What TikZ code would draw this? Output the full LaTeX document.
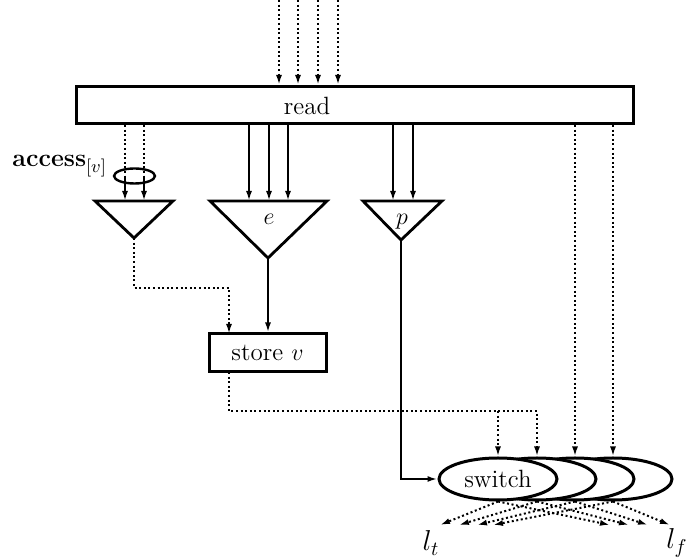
\documentclass[tikz,border=0pt]{standalone}
\usetikzlibrary{shapes.geometric,arrows.meta}
\begin{document}
\begin{tikzpicture}[x=0.5pt,y=-0.5pt,
  every node/.style={font=\fontsize{12.5}{15}\selectfont},
  arr/.style={-{Latex[length=5pt,width=3pt]}},
  dotline/.style={line width=1pt,dash pattern=on 1pt off 1.3pt},
  solidline/.style={line width=1.1pt},
  tri/.style={line width=1.4pt,line join=miter},
  boxnode/.style={draw,line width=1.5pt,inner sep=0pt},
  swnode/.style={draw,ellipse,line width=1.5pt,fill=white,inner sep=0pt,
                 minimum width=59pt,minimum height=21pt}]
\useasboundingbox (0,0) rectangle (686,560);

% read box
\node[boxnode,minimum width=278.5pt,minimum height=18.5pt] (read) at (354.5,105) {};
\node (readlbl) at (307,106) {read};

% triangles
\draw[tri] (95,201) -- (173,201) -- (134,238) -- cycle;
\draw[tri] (210,201) -- (327,201) -- (268,258) -- cycle;
\draw[tri] (363,201) -- (442,201) -- (401,240) -- cycle;
\coordinate (t1) at (134,238);
\coordinate (te) at (268,258);
\coordinate (tp) at (401,240);
\coordinate (toprow) at (0,201);
\node[anchor=base] (elbl) at (269,225) {$e$};
\node[anchor=base] (plbl) at (402,225) {$p$};

% store box
\node[boxnode,minimum width=58.5pt,minimum height=19pt] (store) at (267.5,353) {store $v$};

% switch ellipses
\node[swnode] (sw4) at (613,479) {};
\node[swnode] (sw3) at (575,479) {};
\node[swnode] (sw2) at (537,479) {};
\node[swnode] (sw1) at (498,479) {switch};

% access ellipse and label
\node[draw,ellipse,line width=1.2pt,inner sep=0pt,minimum width=20.5pt,minimum height=7.5pt] (acc) at (134.5,176) {};
\node[anchor=base west,inner sep=0pt] (acclbl) at (12,167) {\textbf{access}$_{[v]}$};

% incoming dotted arrows at top
\foreach \x [count=\i] in {279,298,318,338} {
  \coordinate (in\i) at (\x,0);
  \draw[dotline,arr] (in\i) -- (in\i |- read.north);
}

% read -> access -> triangle 1
\coordinate (a1) at (125,176);
\coordinate (a2) at (144,176);
\draw[dotline] (a1 |- read.south) -- (a1);
\draw[dotline] (a2 |- read.south) -- (a2);
\draw[solidline,arr] (a1) -- (a1 |- toprow);
\draw[solidline,arr] (a2) -- (a2 |- toprow);

% read -> e
\foreach \x [count=\i] in {249,269,288} {
  \coordinate (e\i) at (\x,150);
  \draw[solidline,arr] (e\i |- read.south) -- (e\i |- toprow);
}
% read -> p
\foreach \x [count=\i] in {393,413} {
  \coordinate (p\i) at (\x,150);
  \draw[solidline,arr] (p\i |- read.south) -- (p\i |- toprow);
}

% read -> switch 3,4
\draw[dotline,arr] (sw3.north |- read.south) -- (sw3.north);
\draw[dotline,arr] (sw4.north |- read.south) -- (sw4.north);

% triangle 1 -> store
\coordinate (s1) at (229,334);
\draw[dotline,arr] (t1) -- ++(0,50) -| (s1);
% e -> store
\draw[solidline,arr] (te) -- (te |- store.north);

% store -> switch 1,2
\coordinate (s2) at (229,372);
\coordinate (j) at (229,411);
\draw[dotline,arr] (s2) -- (j) -| (sw2.north);
\draw[dotline,arr] (j -| sw1.north) -- (sw1.north);

% p -> switch
\draw[solidline,arr] (tp) |- (sw1.west);

% outputs
\foreach \l/\r [count=\i] in {440/610,459/629,477/648,493/670} {
  \coordinate (L\i) at (\l,525);
  \coordinate (R\i) at (\r,525);
  \draw[dotline,arr] (sw\i.south) -- (L\i);
  \draw[dotline,arr] (sw\i.south) -- (R\i);
}
\node[font=\fontsize{14}{16}\selectfont] (lt) at (431,543) {$l_t$};
\node[font=\fontsize{14}{16}\selectfont] (lf) at (677,543) {$l_f$};
\end{tikzpicture}
\end{document}
